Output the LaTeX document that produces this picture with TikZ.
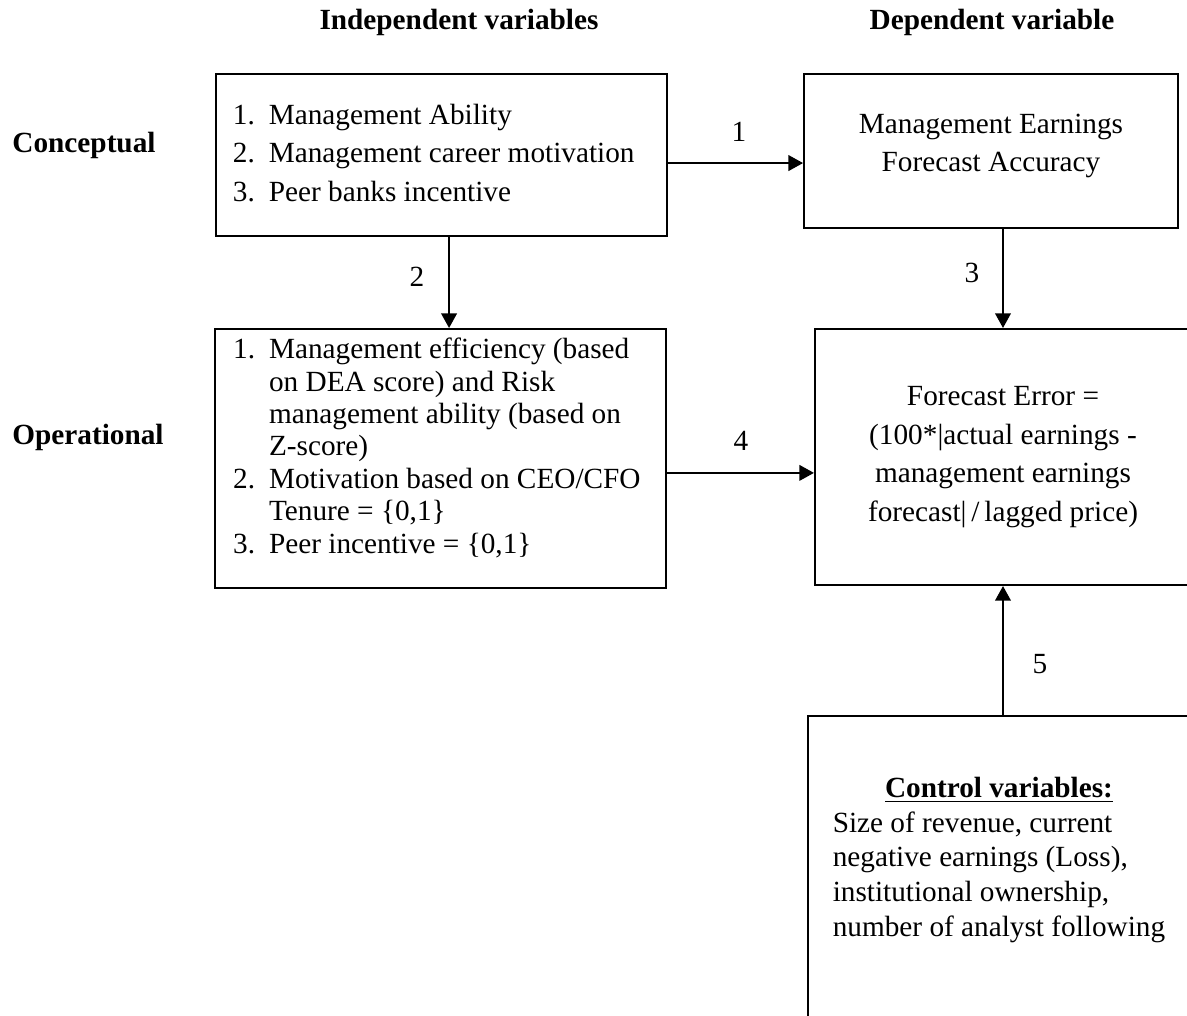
\documentclass[tikz,border=0pt]{standalone}
\usepackage{fontspec}
\setmainfont{Liberation Serif}
\usepackage{tikz}
\usetikzlibrary{arrows.meta}

\tikzset{
    varbox/.style={draw, line width=0.8pt, inner sep=0pt},
    arr/.style={line width=0.8pt, -{Triangle[length=6pt, width=6.4pt]}},
    head/.style={font=\fontsize{12}{14}\selectfont\bfseries},
    lbl/.style={font=\fontsize{12}{14}\selectfont}
}
\newcommand{\numlist}[2]{\makebox[#1][l]{\begin{tabular}{@{}l@{\hspace{5.7pt}}l@{}}#2\end{tabular}}}

\begin{document}
\begin{tikzpicture}[x=0.41pt, y=-0.41pt]
    \useasboundingbox (0, 0) rectangle (1187, 1016);
    \clip (0, 0) rectangle (1187, 1016);

    % headings
    \node[head] (hind) at (459, 22) {Independent variables};
    \node[head] (hdep) at (992, 22) {Dependent variable};
    \node[head] (hcon) at (84, 145) {Conceptual};
    \node[head] (hop) at (88, 437) {Operational};

    % Conceptual
    \node[varbox, minimum width=184.9pt, minimum height=66.4pt,
        font=\fontsize{12}{15.8}\selectfont] (concind) at (441.5, 155)
        {\numlist{171pt}{1. & Management Ability\\
            2. & Management career motivation\\
            3. & Peer banks incentive}};
    \node[varbox, minimum width=153.3pt, minimum height=63.1pt,
        font=\fontsize{12}{15.6}\selectfont] (concdep) at (991, 151)
        {\begin{tabular}{@{}c@{}}Management Earnings\\Forecast Accuracy\\[5pt]\end{tabular}};

    % Operational
    \node[varbox, minimum width=184.9pt, minimum height=106.2pt,
        font=\fontsize{12}{13.3}\selectfont] (opind) at (440.5, 458.5)
        {\numlist{170pt}{1. & Management efficiency (based\\
            & on DEA score) and Risk\\
            & management ability (based on\\
            & Z-score)\\
            2. & Motivation based on CEO/CFO\\
            & Tenure = \{0,1\}\\
            3. & Peer incentive = \{0,1\}\\[7.4pt]}};
    \node[varbox, minimum width=154.2pt, minimum height=105pt, align=center,
        font=\fontsize{12}{15.8}\selectfont] (opdep) at (1003, 457)
        {Forecast Error =\\(100*|actual earnings -\\management earnings\\forecast|\,/\,lagged price)};

    % Control
    \node[varbox, minimum width=156.6pt, minimum height=128.7pt,
        font=\fontsize{12}{14.3}\selectfont] (ctrl) at (999, 873)
        {\begin{tabular}{@{}l@{}}
            \multicolumn{1}{c}{\underline{\textbf{Control variables:}}}\\
            Size of revenue, current\\
            negative earnings (Loss),\\
            institutional ownership,\\
            number of analyst following\\[10.7pt]
        \end{tabular}};

    % arrows
    \coordinate (a1) at ([yshift=-3.3pt]concind.east);
    \draw[arr] (a1) -- (a1 -| concdep.west);
    \coordinate (a2) at ([xshift=3.1pt]concind.south);
    \draw[arr] (a2) -- (a2 |- opind.north);
    \draw[arr] (opdep.north |- concdep.south) -- (opdep.north);
    \coordinate (a4) at ([yshift=-5.9pt]opind.east);
    \draw[arr] (a4) -- (a4 -| opdep.west);
    \draw[arr] (opdep.south |- ctrl.north) -- (opdep.south);

    \node[lbl] (l1) at (739, 132) {1};
    \node[lbl] (l2) at (417, 277) {2};
    \node[lbl] (l3) at (972, 273) {3};
    \node[lbl] (l4) at (741, 441) {4};
    \node[lbl] (l5) at (1040, 664) {5};
\end{tikzpicture}
\end{document}
